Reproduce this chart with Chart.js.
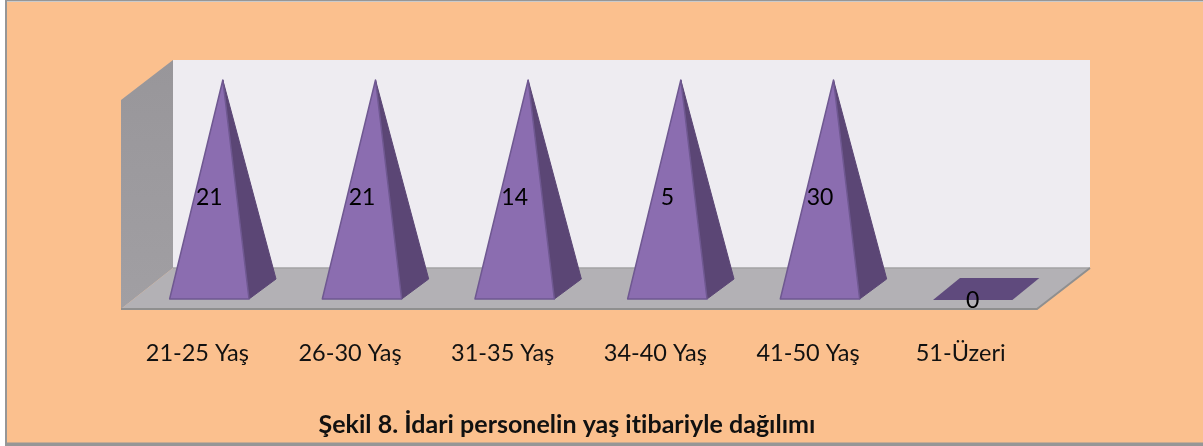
<!DOCTYPE html>
<html><head><meta charset="utf-8">
<style>html,body{margin:0;padding:0;background:#fff}#w{width:1203px;height:446px}canvas{display:block}</style>
<script src="https://cdn.jsdelivr.net/npm/chart.js@4"></script>
</head><body><div id="w"><canvas id="c" width="1203" height="446"></canvas></div>
<script>
const categories = ["21-25 Yaş","26-30 Yaş","31-35 Yaş","34-40 Yaş","41-50 Yaş","51-Üzeri"];
const valueLabels = [21,21,14,5,30,0];
const barHeights = [100,100,100,100,100,0];
const caption = "Şekil 8. İdari personelin yaş itibariyle dağılımı";
const FONT = "Lato, Carlito, sans-serif";

function poly(ctx, pts, fill, stroke, lw){
  ctx.beginPath();
  pts.forEach((p,i)=> i?ctx.lineTo(p[0],p[1]):ctx.moveTo(p[0],p[1]));
  ctx.closePath();
  if(fill){ctx.fillStyle=fill;ctx.fill();}
  if(stroke){ctx.strokeStyle=stroke;ctx.lineWidth=lw||1;ctx.stroke();}
}
const scene = {
  id:"scene",
  beforeDraw(chart){
    const {ctx,chartArea:a,width,height}=chart;
    ctx.save();
    ctx.fillStyle="#ffffff";ctx.fillRect(0,0,width,height);
    ctx.fillStyle="#fbc08e";ctx.fillRect(7,2,width-7,height-5);
    ctx.fillStyle="#969696";
    ctx.fillRect(5,0,2,height);ctx.fillRect(5,0,width-5,1.5);ctx.fillRect(5,height-3.5,width-5,3.5);
    const fl=a.left, fr=a.right, fy=a.bottom+10, dx=52, dy=41, top=a.top-20;
    poly(ctx,[[fl+dx,top],[fr+dx+1,top],[fr+dx+1,fy-dy],[fl+dx,fy-dy]],"#eeecf1");
    const g=ctx.createLinearGradient(0,top,0,fy);
    g.addColorStop(0,"#98969a");g.addColorStop(1,"#a19fa3");
    poly(ctx,[[fl,top+40],[fl+dx,top],[fl+dx,fy-dy],[fl,fy]],g);
    poly(ctx,[[fl,fy],[fl+dx,fy-dy],[fr+dx+1,fy-dy],[fr,fy]],"#b3b1b5");
    ctx.strokeStyle="#a3a3a5";ctx.lineWidth=1.5;
    ctx.beginPath();ctx.moveTo(fl+dx,fy-dy);ctx.lineTo(fr+dx+1,fy-dy);ctx.stroke();
    ctx.strokeStyle="#8f8f8f";ctx.lineWidth=2;
    ctx.beginPath();ctx.moveTo(fl,fy);ctx.lineTo(fr,fy);ctx.lineTo(fr+dx+1,fy-dy);ctx.stroke();
    ctx.restore();
  },
  afterDatasetsDraw(chart){
    const {ctx}=chart;
    const meta=chart.getDatasetMeta(0);
    const yS=chart.scales.y;
    ctx.save();
    ctx.lineJoin="round";
    meta.data.forEach((bar,i)=>{
      const cx=bar.x+12, hw=bar.width/2, b=bar.base, ty=bar.y;
      const dep=[27,-20];
      if(barHeights[i]>0){
        const L=[cx-hw,b],R=[cx+hw,b],B=[cx+hw+dep[0],b+dep[1]],A=[cx+13.5,ty];
        poly(ctx,[R,B,A],"#5b4675","#5b4675",1);
        poly(ctx,[L,R,A],"#8b6db0","#6f5891",1.5);
      } else {
        const y0=b+1;
        poly(ctx,[[cx-hw,y0],[cx+hw,y0],[cx+hw+dep[0],y0-22],[cx-hw+dep[0],y0-22]],"#5f4a7d");
      }
    });
    ctx.fillStyle="#000";ctx.font="23px "+FONT;ctx.textAlign="center";ctx.textBaseline="middle";
    meta.data.forEach((bar,i)=>{
      ctx.fillText(String(valueLabels[i]),bar.x+12,yS.getPixelForValue(barHeights[i]*0.47)+2);
    });
    ctx.font="bold 25px "+FONT;ctx.fillStyle="#111";
    ctx.letterSpacing="0.02px";
    ctx.fillText(caption,567,425);
    ctx.restore();
  }
};
new Chart(document.getElementById("c"),{
  type:"bar",
  data:{labels:categories,datasets:[{data:barHeights,backgroundColor:"rgba(0,0,0,0)",borderWidth:0,barPercentage:0.52,categoryPercentage:1}]},
  options:{
    responsive:false,animation:false,
    layout:{padding:{left:121,right:166,top:80,bottom:0}},
    plugins:{legend:{display:false},tooltip:{enabled:false},title:{display:false}},
    scales:{
      x:{grid:{display:false,drawTicks:false},border:{display:false},
         ticks:{color:"#111",font:{family:FONT,size:23.5},padding:40,maxRotation:0,autoSkip:false},
         afterFit(s){s.height=147;}},
      y:{display:false,min:0,max:100}
    }
  },
  plugins:[scene]
});
</script></body></html>
